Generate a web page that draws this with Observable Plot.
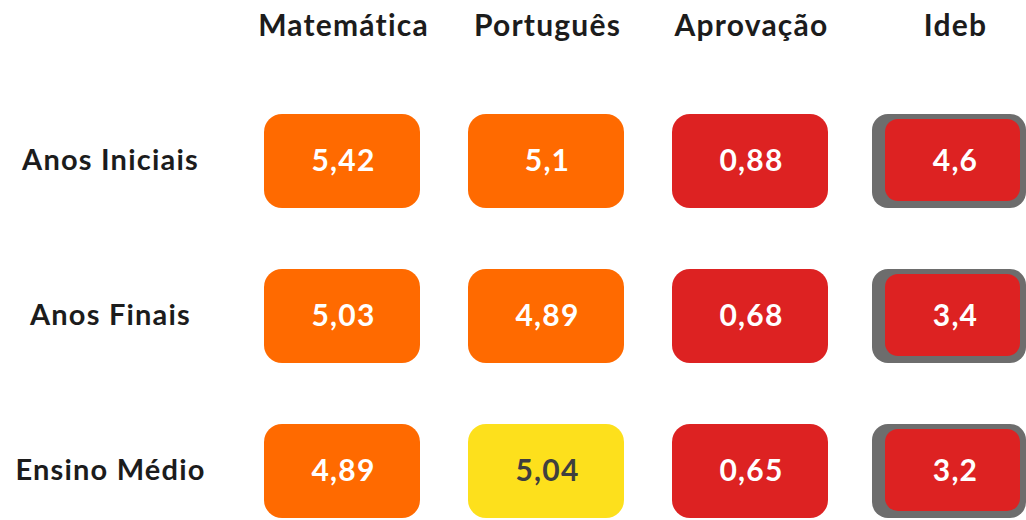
<!DOCTYPE html>
<html>
<head>
<meta charset="utf-8">
<script src="https://cdn.jsdelivr.net/npm/d3@7"></script>
<script src="https://cdn.jsdelivr.net/npm/@observablehq/plot@0.6"></script>
<style>
  html, body { margin: 0; padding: 0; background: #ffffff; }
  #chart svg { display: block; }
</style>
</head>
<body>
<div id="chart"></div>
<script>
// ---- data ----
const rows = ["Anos Iniciais", "Anos Finais", "Ensino Médio"];
const columns = ["Matemática", "Português", "Aprovação", "Ideb"];
const matematica = [5.42, 5.03, 4.89];
const portugues = [5.1, 4.89, 5.04];
const aprovacao = [0.88, 0.68, 0.65];
const ideb = [4.6, 3.4, 3.2];
// performance level of each cell (1 = vermelho, 2 = laranja, 3 = amarelo)
const nivelMatematica = [2, 2, 2];
const nivelPortugues = [2, 2, 3];
const nivelAprovacao = [1, 1, 1];
const nivelIdeb = [1, 1, 1];

const seriesValues = [matematica, portugues, aprovacao, ideb];
const seriesLevels = [nivelMatematica, nivelPortugues, nivelAprovacao, nivelIdeb];

const table = [];
columns.forEach((col, j) => {
  rows.forEach((row, i) => {
    table.push({row, col, value: seriesValues[j][i], nivel: seriesLevels[j][i]});
  });
});
const fmt = d => String(d.value).replace(".", ",");

const font = "Lato, 'Open Sans', sans-serif";
const regular = table.filter(d => d.col !== "Ideb");
const idebCells = table.filter(d => d.col === "Ideb");

const chart = Plot.plot({
  width: 1026,
  height: 520,
  margin: 0,
  style: {background: "#ffffff", fontFamily: font, letterSpacing: "1.2px"},
  x: {type: "band", domain: columns, range: [241, 1057], padding: 0, axis: null},
  y: {type: "band", domain: rows, range: [82.25, 548.75], padding: 0, axis: null},
  color: {type: "ordinal", domain: [1, 2, 3], range: ["#dd2222", "#ff6a00", "#fde01c"]},
  marks: [
    // regular cells
    Plot.cell(regular, {x: "col", y: "row", fill: "nivel", insetLeft: 23, insetRight: 25, insetTop: 31, insetBottom: 30, rx: 18}),
    // Ideb: grey frame + red inner cell
    Plot.cell(idebCells, {x: "col", y: "row", fill: "#6d6d6d", insetLeft: 19, insetRight: 31, insetTop: 31, insetBottom: 30, rx: 16}),
    Plot.cell(idebCells, {x: "col", y: "row", fill: "nivel", insetLeft: 32, insetRight: 37, insetTop: 36, insetBottom: 37, rx: 13}),
    // values
    Plot.text(table.filter(d => d.nivel !== 3), {x: "col", y: "row", text: fmt, fill: "#ffffff", fontSize: 30, fontWeight: 700, fontFamily: font}),
    Plot.text(table.filter(d => d.nivel === 3), {x: "col", y: "row", text: fmt, fill: "#3f3f3f", fontSize: 30, fontWeight: 700, fontFamily: font}),
    // column headers
    Plot.text(columns, {x: d => d, frameAnchor: "top", lineAnchor: "middle", dy: 26, text: d => d, fill: "#1c1c1c", fontSize: 30, fontWeight: 700, fontFamily: font}),
    // row labels
    Plot.text(rows, {y: d => d, frameAnchor: "left", dx: 110, textAnchor: "middle", text: d => d, fill: "#1c1c1c", fontSize: 29, fontWeight: 700, fontFamily: font})
  ]
});
document.getElementById("chart").appendChild(chart);
</script>
</body>
</html>
